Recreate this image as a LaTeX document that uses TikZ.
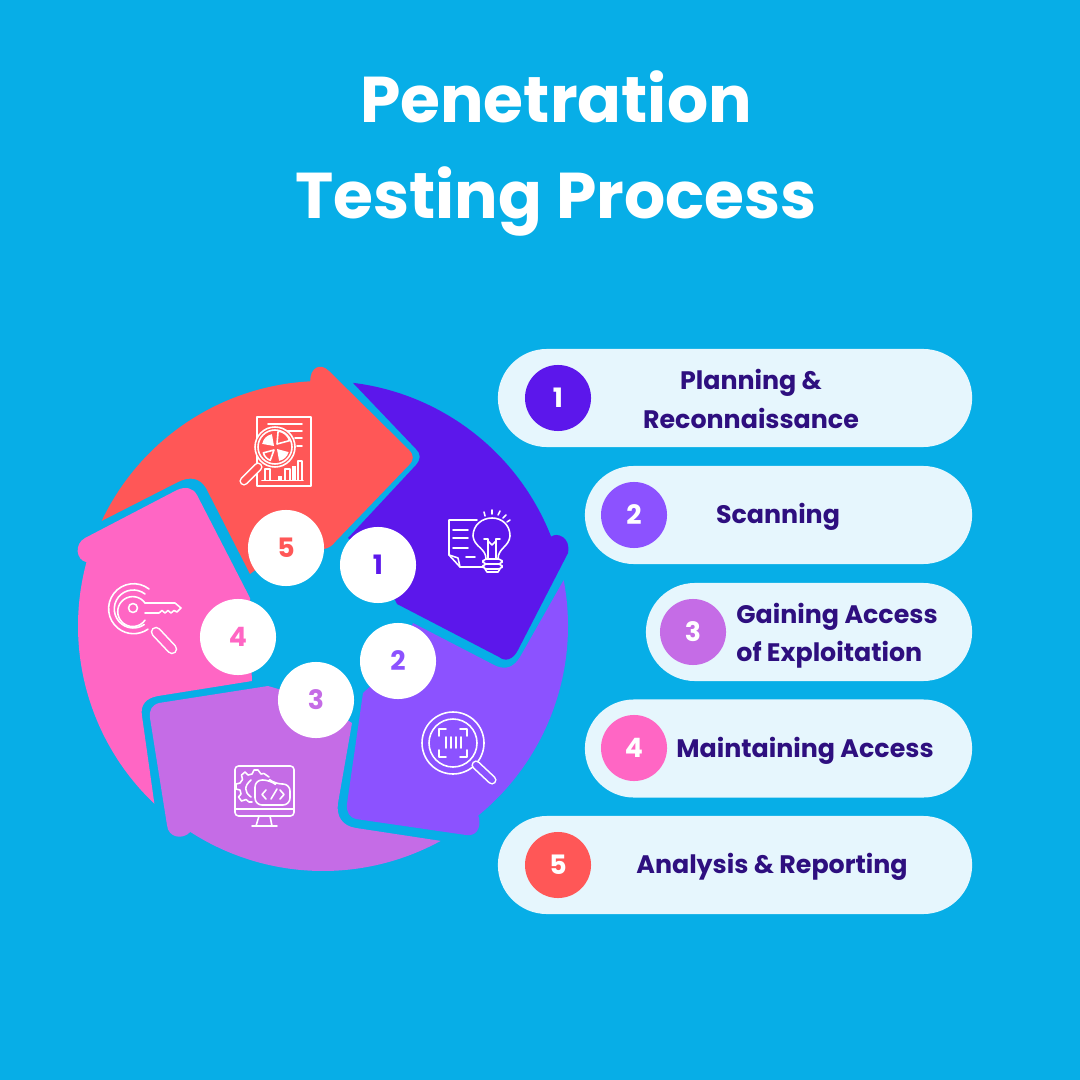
\documentclass[tikz,border=0pt]{standalone}
\usepackage{fontspec}
\setmainfont{Poppins}
\usepackage{tikz}
\usetikzlibrary{shapes.misc}

\definecolor{skybg}{HTML}{07AEE7}
\definecolor{plan}{HTML}{5C17EB}
\definecolor{scan}{HTML}{8C52FF}
\definecolor{gain}{HTML}{C56CE6}
\definecolor{keep}{HTML}{FF66C4}
\definecolor{report}{HTML}{FF5757}
\definecolor{pillbg}{HTML}{E6F6FD}
\definecolor{ink}{HTML}{2E0F7F}

\tikzset{
  pill/.style={rounded rectangle, fill=pillbg, minimum height=0.98cm, inner sep=0pt},
  badge/.style={circle, minimum size=0.66cm, inner sep=0pt, text=white, font=\bfseries\fontsize{7.6}{9}\selectfont},
  disc/.style={circle, fill=white, minimum size=0.76cm, inner sep=0pt, font=\bfseries\fontsize{7.6}{9}\selectfont},
  label/.style={text=ink, align=center, inner sep=0pt, font=\bfseries\fontsize{7.2}{10.9}\selectfont},
  icon/.style={draw=white, line width=0.45pt, line cap=round, line join=round},
  grip/.style={white, line width=0.45pt, double distance=1.7pt, line cap=round},
}

\begin{document}
\begin{tikzpicture}[x=0.01cm, y=-0.01cm]
      \fill[skybg] (0,0) rectangle (1080,1080);

      \node (title) at (556,153) [text=white, align=center, inner sep=0pt, font=\bfseries\fontsize{18.4}{27.3}\selectfont] {Penetration\\Testing Process};

      \coordinate (hub) at (323,626);

      \fill[plan] (hub) ++(-83:245) arc[start angle=-83, end angle=-21.4, radius=245]
        .. controls (557,532) and (571,537) .. (568,553) -- (518,650)
        .. controls (513,660) and (505,662) .. (499,657) -- (397,604) -- (378,565) -- (348,538) -- (416,465)
        .. controls (421,459) and (421,454) .. (416,449) -- cycle;

      \fill[scan] (hub) ++(-10.8:245) arc[start angle=-10.8, end angle=50.7, radius=245]
        .. controls (481,822) and (480,837) .. (466,835) -- (356,819)
        .. controls (350,818) and (346,812) .. (347,804) -- (363,693) -- (398,661) -- (413,623) -- (496,666)
        .. controls (506,670) and (514,667) .. (520,657) -- cycle;

      \fill[gain] (hub) ++(61.3:245) arc[start angle=61.3, end angle=122.8, radius=245]
        .. controls (183,840) and (168,838) .. (167,825) -- (150,718)
        .. controls (149,710) and (152,705) .. (159,703) -- (268,686) -- (316,700) -- (352,723) -- (338,803)
        .. controls (336,816) and (342,826) .. (356,828) -- cycle;

      \fill[keep] (hub) ++(133.5:245) arc[start angle=133.5, end angle=195.1, radius=245]
        .. controls (76,560) and (74,544) .. (85,538) -- (177,490)
        .. controls (186,486) and (193,488) .. (197,495) -- (250,598) -- (250,640) -- (252,681) -- (158,696)
        .. controls (146,698) and (140,705) .. (142,716) -- cycle;

      \fill[report] (hub) ++(-154.6:245) arc[start angle=-154.6, end angle=-93, radius=245]
        .. controls (310,368) and (320,362) .. (329,371) -- (409,450)
        .. controls (414,455) and (414,460) .. (409,465) -- (336,541)
        .. controls (332,546) and (329,548) .. (324,549) -- (262,565) -- (250,574) -- (206,488)
        .. controls (200,478) and (190,476) .. (178,482) -- cycle;

      % report
      \draw[icon] (257,417) rectangle (311,486);
      \draw[icon] (268,424) -- (302,424);
      \draw[icon] (287,431) -- (302,431);
      \draw[icon] (295,438) -- (302,438);
      \draw[icon] (297,446) -- (302,446);
      \draw[icon] (262,480.5) -- (303,480.5);
      \draw[icon] (265,480) -- (265,469) -- (270,469) -- (270,480);
      \draw[icon] (285,480) -- (285,469) -- (290,469) -- (290,480);
      \draw[icon] (298,480) -- (298,461) -- (302,461) -- (302,480);
      \fill[white] (278,476) rectangle (282,480);
      \fill[white] (292,466) rectangle (296,480);
      \fill[report] (275,447) circle (20);
      \draw[icon] (275,447) circle (20);
      \draw[icon] (275,447) circle (17);
      \fill[white] (274,446) -- ++(-170:12) arc[start angle=-170, end angle=-100, radius=12] -- cycle;
      \draw[icon] (277,444) -- ++(-85:13) arc[start angle=-85, end angle=-15, radius=13] -- cycle;
      \fill[white] (277,449) -- ++(15:12) arc[start angle=15, end angle=80, radius=12] -- cycle;
      \draw[icon] (274,450) -- ++(110:11) arc[start angle=110, end angle=165, radius=11] -- cycle;
      \draw[grip, double=report] (258,467) -- (244,481);

      % plan
      \draw[icon] (477,520) -- (449,520) -- (449,555) -- (460,567) -- (484,567);
      \draw[icon] (449,555) -- (458,558) -- (460,567);
      \draw[icon] (453,530) -- (468,530);
      \draw[icon] (453,538) -- (468,538);
      \draw[icon] (453,548) -- (468,548);
      \draw[icon] (466,557) -- (475,557);
      \draw[icon] (486,559) .. controls (486,548) and (474,547) .. (473,536) .. controls (473,525) and (482,518) .. (492,518) .. controls (502,518) and (510,525) .. (510,536) .. controls (509,547) and (498,548) .. (498,559);
      \draw[icon] (488,559) -- (488,539) -- (484,539);
      \draw[icon] (496,559) -- (496,539) -- (500,539);
      \draw[icon] (488,541) -- (492,545) -- (496,541);
      \draw[icon, rounded corners=1] (483,559) rectangle (502,564);
      \draw[icon, rounded corners=1] (483,564) rectangle (502,569);
      \draw[icon] (485,569) -- (487,572) -- (498,572) -- (500,569);
      \draw[icon] (484,512) -- (485,516);
      \draw[icon] (492,510) -- (492,514);
      \draw[icon] (500,511) -- (498,515);
      \draw[icon] (506,515) -- (503,518);
      \draw[icon] (510,520) -- (507,522);

      % scan
      \draw[icon] (453,743) circle (31);
      \draw[icon] (453,743) circle (24);
      \draw[grip, double=scan] (476,765) -- (492,780);
      \draw[icon] (439,736) -- (439,729) -- (446,729);
      \draw[icon] (460,729) -- (467,729) -- (467,736);
      \draw[icon] (439,750) -- (439,757) -- (446,757);
      \draw[icon] (460,757) -- (467,757) -- (467,750);
      \draw[icon] (446,737) -- (446,748);
      \draw[icon] (451,737) -- (451,748);
      \draw[icon] (456,737) -- (456,748);
      \draw[icon] (461,737) -- (461,748);

      % gain
      \draw[icon, rounded corners=1] (235,766) rectangle (294,816);
      \draw[icon] (235,809) -- (294,809);
      \draw[icon] (259,816) -- (256,826);
      \draw[icon] (270,816) -- (272,826);
      \draw[icon] (252,826) -- (277,826);
      \draw[icon] (269,777) -- (264,773.5) -- (261,774) -- (258,770) -- (254,770) -- (252,774) -- (248,775) -- (245,772) -- (241.5,775) -- (242.5,779.5) -- (240,783) -- (236,784) -- (236,789) -- (240,790) -- (241,794) -- (238.5,797) -- (241.5,801) -- (246,799.5) -- (249,802) -- (252,802);
      \draw[icon] (251,780) .. controls (244,786) and (244,792) .. (251,797);
      \draw[icon, rounded corners=2] (255,805) -- (255,780) -- (270,780) -- (275,784) -- (290,784) -- (290,805) -- cycle;
      \draw[icon] (266,790) -- (262,794.5) -- (266,799);
      \draw[icon] (277,789) -- (271,799);
      \draw[icon] (280,790) -- (284,794.5) -- (280,799);

      % keep
      \draw[icon] (149,589) arc[start angle=-52, end angle=-305, radius=25];
      \draw[icon] (145,594) arc[start angle=-52, end angle=-305, radius=19];
      \draw[icon] (145,603) -- (175,603) -- (181,608) -- (177,612) -- (174,610.5) -- (171,613) -- (168,610.5) -- (165,613) -- (162,610.5) -- (159,613) -- (145,613);
      \draw[icon] (145,603) arc[start angle=-35, end angle=-325, radius=15];
      \draw[icon] (133,608) circle (4.5);
      \draw[grip, double=keep, double distance=2.1pt] (156,632) -- (172,649);

      \node (disc1) at (378,565) [disc, text=plan] {1};
      \node (disc2) at (398,661) [disc, text=scan] {2};
      \node (disc3) at (316,700) [disc, text=gain] {3};
      \node (disc4) at (238,637) [disc, text=keep] {4};
      \node (disc5) at (286,548) [disc, text=report] {5};

      \node (pill1) at (735,398) [pill, minimum width=4.74cm] {};
      \node (pill2) at (778.5,515) [pill, minimum width=3.87cm] {};
      \node (pill3) at (809,632) [pill, minimum width=3.26cm] {};
      \node (pill4) at (778.5,748.5) [pill, minimum width=3.87cm] {};
      \node (pill5) at (735,865) [pill, minimum width=4.74cm] {};

      \node (badge1) at (558,398) [badge, fill=plan] {1};
      \node (badge2) at (634,515) [badge, fill=scan] {2};
      \node (badge3) at (693,632) [badge, fill=gain] {3};
      \node (badge4) at (634,748) [badge, fill=keep] {4};
      \node (badge5) at (558,865) [badge, fill=report] {5};

      \node (label1) at (751,399) [label] {Planning \&\\Reconnaissance};
      \node (label2) at (778,517) [label] {Scanning};
      \node (label3) at (837,636) [label, align=left] {Gaining Access\\of Exploitation};
      \node (label4) at (805,751) [label] {Maintaining Access};
      \node (label5) at (772,867) [label] {Analysis \& Reporting};
\end{tikzpicture}
\end{document}
